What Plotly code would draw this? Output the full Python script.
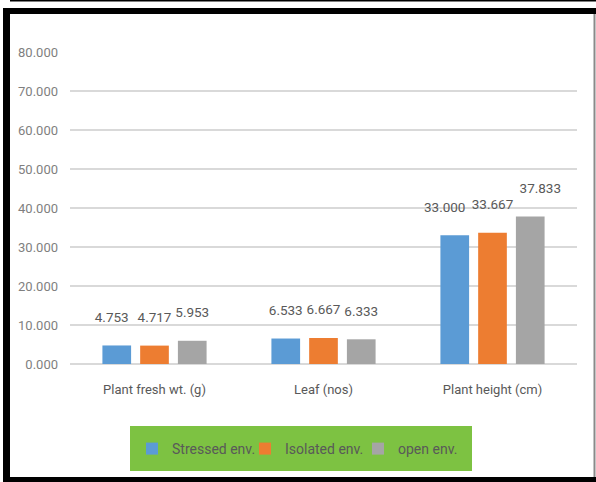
import plotly.graph_objects as go

categories = ["Plant fresh wt. (g)", "Leaf (nos)", "Plant height (cm)"]
series_names = ["Stressed env.", "Isolated env.", "open env."]
stressed = [4.753, 6.533, 33.000]
isolated = [4.717, 6.667, 33.667]
open_env = [5.953, 6.333, 37.833]
y_ticks = [0, 10, 20, 30, 40, 50, 60, 70, 80]
y_tick_labels = ["0.000", "10.000", "20.000", "30.000", "40.000", "50.000", "60.000", "70.000", "80.000"]

colors = ["#5B9BD5", "#ED7D31", "#A5A5A5"]
# label nudges (number of non-breaking spaces; negative = pad on right -> shift left)
label_nudge = [[-3, 0, -6], [0, 0, 0], [0, 0, 6]]

W, H = 596, 482
L, R, T, B = 70, 19, 52, 118
PW, PH = W - L - R, H - T - B

def px_x(x):
    return (x - L) / PW

def px_y(y):
    return (H - B - y) / PH

def tmpl(n):
    sp = "\u00a0" * abs(n)
    if n < 0:
        return "%{y:.3f}" + sp + "<br> "
    return sp + "%{y:.3f}<br> "

FONT = "Roboto, sans-serif"

fig = go.Figure()
for name, vals, col, nudges in zip(series_names, [stressed, isolated, open_env], colors, label_nudge):
    fig.add_trace(go.Bar(
        name=name, x=categories, y=vals, marker=dict(color=col, line=dict(width=0)),
        texttemplate=[tmpl(n) for n in nudges], textposition="outside", textangle=0,
        constraintext="none", cliponaxis=False,
        textfont=dict(family=FONT, size=13.5, color="#595959"),
    ))

shapes = []
def rect(x0, y0, x1, y1, color, layer="above"):
    shapes.append(dict(type="rect", xref="paper", yref="paper",
                       x0=px_x(x0), x1=px_x(x1), y0=px_y(y0), y1=px_y(y1),
                       fillcolor=color, line=dict(width=0), layer=layer))

# green legend box
rect(130, 426, 472, 471, "#7DC242", layer="below")
# frame
rect(10, 0, 596, 1.5, "#000000")
rect(3, 8, 10, 482, "#000000")
rect(3, 8, 596, 14, "#000000")
rect(3, 477, 596, 482, "#000000")
rect(593.5, 14, 595.5, 477, "#8a8a8a")

fig.update_layout(
    width=W, height=H,
    margin=dict(l=L, r=R, t=T, b=B),
    paper_bgcolor="white", plot_bgcolor="white",
    barmode="group", bargap=0.33, bargroupgap=0.24,
    font=dict(family=FONT, color="#595959"),
    shapes=shapes,
    legend=dict(orientation="h", x=px_x(132), y=px_y(449), xanchor="left", yanchor="middle",
                bgcolor="rgba(0,0,0,0)", font=dict(family=FONT, size=14, color="#595959"),
                itemwidth=30, entrywidth=68, entrywidthmode="pixels", traceorder="normal"),
    xaxis=dict(showgrid=False, showline=False, ticks="", ticklabelstandoff=16,
               tickfont=dict(family=FONT, size=13, color="#595959")),
    yaxis=dict(range=[0, 80], tickvals=y_ticks, ticktext=y_tick_labels,
               showgrid=True, gridcolor="#D9D9D9", gridwidth=1.5,
               zeroline=True, zerolinecolor="#D9D9D9", zerolinewidth=1.5,
               showline=False, ticks="", ticklabelstandoff=11,
               tickfont=dict(family=FONT, size=13, color="#7F7F7F")),
)

fig.write_html("out.html")
